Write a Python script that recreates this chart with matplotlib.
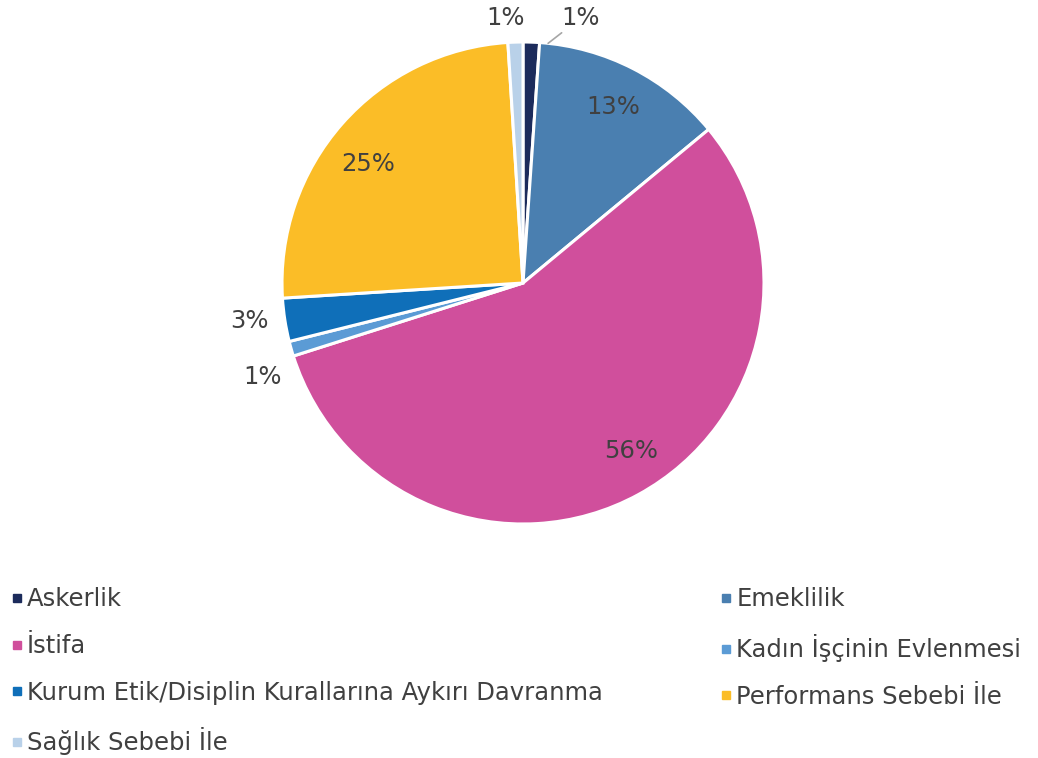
import numpy as np
import matplotlib.pyplot as plt
from matplotlib.lines import Line2D

# Data (percent of exits by reason)
labels = ['Askerlik', 'Emeklilik', 'İstifa', 'Kadın İşçinin Evlenmesi',
          'Kurum Etik/Disiplin Kurallarına Aykırı Davranma',
          'Performans Sebebi İle', 'Sağlık Sebebi İle']
values = [1.1, 12.9, 56.1, 1.0, 2.9, 25.0, 1.0]
colors = ['#1c2b5b', '#4a7fb0', '#d04f9c', '#5b9bd5', '#0f6fb9', '#fbbd27', '#b9d1e9']

plt.rcParams['font.family'] = ['DejaVu Sans']
text_color = '#404040'

fig = plt.figure(figsize=(10.38, 7.58), dpi=100)
W, H = 1038, 758
cx, cy, r = 523, 283, 241
ax = fig.add_axes([(cx - r) / W, (H - cy - r) / H, 2 * r / W, 2 * r / H])

wedges, _ = ax.pie(values, colors=colors, startangle=90, counterclock=False,
                   wedgeprops=dict(edgecolor='white', linewidth=2.2))
ax.set_xlim(-1, 1)
ax.set_ylim(-1, 1)
ax.set_aspect('equal')
ax.axis('off')

# label placement: (distance from centre, angle nudge in degrees)
place = {'Emeklilik': (0.82, 0),
         'İstifa': (0.83, 4),
         'Performans Sebebi İle': (0.81, 4),
         'Kadın İşçinin Evlenmesi': (1.15, 4),
         'Kurum Etik/Disiplin Kurallarına Aykırı Davranma': (1.145, -1),
         'Sağlık Sebebi İle': (1.10, 2)}

total = sum(values)
for i, (w, v) in enumerate(zip(wedges, values)):
    mid = (w.theta1 + w.theta2) / 2
    txt = f'{round(v / total * 100):.0f}%'
    if labels[i] in place:
        d, nudge = place[labels[i]]
        a = np.deg2rad(mid + nudge)
        ax.text(d * np.cos(a), d * np.sin(a), txt, ha='center', va='center',
                fontsize=17.5, color=text_color, clip_on=False)
    else:
        # Askerlik: label pulled to the right with a leader line
        a = np.deg2rad(mid - 4)
        x0, y0 = np.cos(a), np.sin(a)
        ax.annotate(txt, xy=(x0, y0), xytext=(x0 + 0.135, y0 + 0.105),
                    ha='center', va='center', fontsize=17.5, color=text_color,
                    arrowprops=dict(arrowstyle='-', color='#a6a6a6', lw=1.2,
                                    shrinkA=0, shrinkB=0),
                    annotation_clip=False)

# legend, row-wise order in two columns
handles = [Line2D([], [], marker='s', linestyle='none', markersize=6,
                  color=c) for c in colors]
order = [0, 2, 4, 6, 1, 3, 5]
leg = fig.legend([handles[i] for i in order], [labels[i] for i in order],
                 ncol=2, loc='upper left', bbox_to_anchor=(-0.006, 0.2475),
                 frameon=False, fontsize=17.5, labelcolor=text_color,
                 handlelength=0.5, handletextpad=0.15, columnspacing=4.85,
                 labelspacing=0.93, borderaxespad=0.3)

fig.savefig('out.png', dpi=100)
